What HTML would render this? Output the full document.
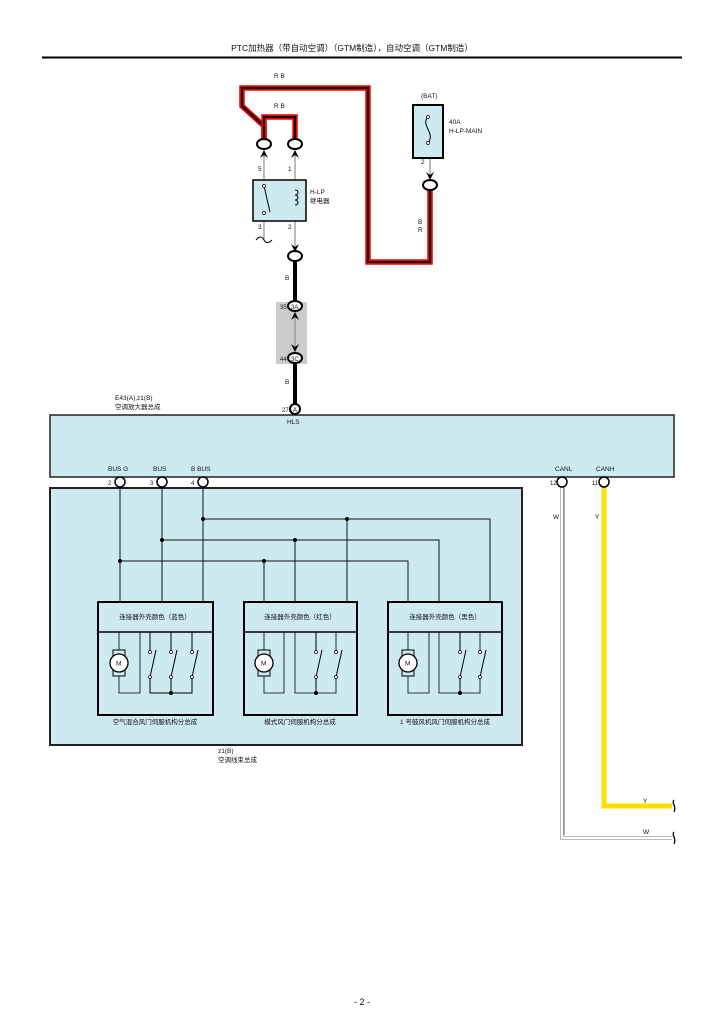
<!DOCTYPE html>
<html><head><meta charset="utf-8"><style>
body{margin:0;background:#fff;}
svg{display:block;}
text{font-family:"Liberation Sans","Noto Sans CJK SC",sans-serif;fill:#111;}
</style></head><body>
<svg width="724" height="1024" viewBox="0 0 724 1024" xmlns="http://www.w3.org/2000/svg">
<text x="352" y="51" font-size="8.5" text-anchor="middle">PTC加热器（带自动空调）（GTM制造），自动空调（GTM制造）</text>
<line x1="42" y1="57.5" x2="682" y2="57.5" stroke="#000" stroke-width="2"/>

<g fill="none" stroke-linejoin="miter">
<polyline points="264,140 264,126 242,106 242,88 368,88 368,262 430,262 430,190" stroke="#e00" stroke-width="5.5"/>
<polyline points="264,140 264,126 242,106 242,88 368,88 368,262 430,262 430,190" stroke="#000" stroke-width="2"/>
<polyline points="264,140 264,117 295,117 295,140" stroke="#e00" stroke-width="5.5"/>
<polyline points="264,140 264,117 295,117 295,140" stroke="#000" stroke-width="2"/>
</g>
<g font-size="6.5">
<text x="274" y="78">R B</text>
<text x="274" y="108">R B</text>
<text x="421" y="98">(BAT)</text>
<text x="449" y="124">40A</text>
<text x="449" y="133">H-LP-MAIN</text>
<text x="421" y="164">2</text>
<text x="418" y="224">B</text>
<text x="418" y="232">R</text>
<text x="258" y="171">5</text>
<text x="288" y="171">1</text>
<text x="258" y="229">3</text>
<text x="288" y="229">2</text>
<text x="310" y="194">H-LP</text>
<text x="310" y="203">继电器</text>
<text x="285" y="280">B</text>
<text x="285" y="384">B</text>
<text x="115" y="400">E43(A),z1(B)</text>
<text x="115" y="409">空调放大器总成</text>
</g>
<g fill="#fff" stroke="#000" stroke-width="2">
<ellipse cx="264" cy="144" rx="7" ry="5"/>
<ellipse cx="295" cy="144" rx="7" ry="5"/>
<ellipse cx="430" cy="185" rx="7" ry="5"/>
</g>
<g stroke="#777" stroke-width="1">
<line x1="264" y1="150" x2="264" y2="240"/>
<line x1="295" y1="150" x2="295" y2="250"/>
<line x1="430" y1="158" x2="430" y2="178"/>
</g>
<g fill="#000">
<path d="M260,158 L264,150 L268,158 L264,155Z"/>
<path d="M291,158 L295,150 L299,158 L295,155Z"/>
<path d="M426,172 L430,180 L434,172 L430,175Z"/>
<path d="M291,244 L295,252 L299,244 L295,247Z"/>
</g>
<rect x="413" y="105" width="30" height="53" fill="#cdeaf1" stroke="#000" stroke-width="2"/>
<path d="M428,117 C420,125 436,133 428,143" fill="none" stroke="#000"/>
<circle cx="428" cy="117" r="1.5" fill="#fff" stroke="#000" stroke-width="0.7"/>
<circle cx="428" cy="143" r="1.5" fill="#fff" stroke="#000" stroke-width="0.7"/>
<rect x="253" y="180" width="53" height="41" fill="#cdeaf1" stroke="#000" stroke-width="1.5"/>
<line x1="264" y1="186" x2="270" y2="212" stroke="#000"/>
<circle cx="264" cy="186" r="1.5" fill="#fff" stroke="#000" stroke-width="0.7"/>
<circle cx="264" cy="213" r="1.5" fill="#fff" stroke="#000" stroke-width="0.7"/>
<path d="M295,190 c4,0 4,5 0,5 c4,0 4,5 0,5 c4,0 4,5 0,5" fill="none" stroke="#000"/>
<path d="M256,240 c3,-4 6,-4 8,0 s5,3 8,0" fill="none" stroke="#000"/>
<ellipse cx="295" cy="256" rx="7" ry="5" fill="#fff" stroke="#000" stroke-width="2"/>
<line x1="295" y1="261" x2="295" y2="404" stroke="#000" stroke-width="4"/>
<rect x="276" y="302" width="31" height="62" fill="#ccc"/>
<line x1="295" y1="300" x2="295" y2="365" stroke="#000" stroke-width="4"/>
<rect x="293" y="311" width="4" height="42" fill="#ccc"/>
<line x1="295" y1="312" x2="295" y2="352" stroke="#888" stroke-width="1"/>
<path d="M291,320 L295,312 L299,320 L295,317Z"/>
<path d="M291,344 L295,352 L299,344 L295,347Z"/>
<g fill="#fff" stroke="#000" stroke-width="2">
<ellipse cx="295" cy="306" rx="7" ry="5"/>
<ellipse cx="295" cy="358" rx="7" ry="5"/>
</g>
<g font-size="6">
<text x="280" y="309">35</text><text x="291" y="309">3A</text>
<text x="280" y="361">44</text><text x="291" y="361">3C</text>
</g>
<rect x="50" y="415" width="624" height="62" fill="#cdeaf1" stroke="#222" stroke-width="1.5"/>
<circle cx="295" cy="409" r="5" fill="#fff" stroke="#000" stroke-width="2"/>
<g font-size="6"><text x="282" y="412">27</text><text x="293" y="412">A</text></g>
<text x="287" y="424" font-size="6.5">HLS</text>
<g font-size="6.5">
<text x="108" y="471">BUS G</text><text x="153" y="471">BUS</text><text x="191" y="471">B BUS</text>
<text x="555" y="471">CANL</text><text x="596" y="471">CANH</text>
</g>
<rect x="50" y="488" width="472" height="257" fill="#cdeaf1" stroke="#222" stroke-width="2"/>
<polyline points="562,485 562,838 672,838" fill="none" stroke="#bbb" stroke-width="4"/>
<polyline points="562,485 562,838 672,838" fill="none" stroke="#fff" stroke-width="2"/>
<line x1="564" y1="485" x2="564" y2="835" stroke="#666" stroke-width="1"/>
<polyline points="604,485 604,806 672,806" fill="none" stroke="#ffe000" stroke-width="5"/>
<g font-size="6.5"><text x="553" y="519">W</text><text x="595" y="519">Y</text><text x="643" y="803">Y</text><text x="643" y="834">W</text></g>
<path d="M674,800 c-3,3 3,6 0,12" fill="none" stroke="#000" stroke-width="1.3"/>
<path d="M674,832 c-3,3 3,6 0,12" fill="none" stroke="#000" stroke-width="1.3"/>
<g stroke="#111" stroke-width="1" fill="none">
<line x1="120" y1="485" x2="120" y2="602"/>
<line x1="162" y1="485" x2="162" y2="602"/>
<line x1="203" y1="485" x2="203" y2="602"/>
<polyline points="203,519 490,519 490,602"/>
<line x1="347" y1="519" x2="347" y2="602"/>
<polyline points="162,540 439,540 439,602"/>
<line x1="295" y1="540" x2="295" y2="602"/>
<polyline points="120,561 408,561 408,602"/>
<line x1="264" y1="561" x2="264" y2="602"/>
</g>
<g fill="#000">
<circle cx="203" cy="519" r="2"/><circle cx="347" cy="519" r="2"/>
<circle cx="162" cy="540" r="2"/><circle cx="295" cy="540" r="2"/>
<circle cx="120" cy="561" r="2"/><circle cx="264" cy="561" r="2"/>
</g>
<g fill="#fff" stroke="#000" stroke-width="1.5">
<circle cx="120" cy="482" r="5"/><circle cx="162" cy="482" r="5"/><circle cx="203" cy="482" r="5"/>
<circle cx="562" cy="482" r="5"/><circle cx="604" cy="482" r="5"/>
</g>
<g font-size="6"><text x="108" y="485">2</text><text x="150" y="485">3</text><text x="191" y="485">4</text><text x="550" y="485">12</text><text x="592" y="485">11</text></g>

<g stroke="#000" fill="none">
<rect x="98" y="602" width="115" height="113" stroke-width="2"/><line x1="98" y1="632" x2="213" y2="632" stroke-width="1.5"/>
<rect x="244" y="602" width="113" height="113" stroke-width="2"/><line x1="244" y1="632" x2="357" y2="632" stroke-width="1.5"/>
<rect x="388" y="602" width="114" height="113" stroke-width="2"/><line x1="388" y1="632" x2="502" y2="632" stroke-width="1.5"/>
<polyline points="119,632 119,693 140,693 140,632" stroke-width="0.8"/>
<polyline points="150,632 150,693 192,693 192,632" stroke-width="1"/>
<line x1="171" y1="632" x2="171" y2="693"/>
<polyline points="264,632 264,693 284,693 284,632" stroke-width="0.8"/>
<polyline points="295,632 295,693 336,693 336,632" stroke-width="0.8"/>
<line x1="316" y1="632" x2="316" y2="693"/>
<polyline points="408,632 408,693 429,693 429,632" stroke-width="0.8"/>
<polyline points="439,632 439,693 480,693 480,632" stroke-width="0.8"/>
<line x1="460" y1="632" x2="460" y2="693"/>
</g>
<g fill="#cdeaf1">
<rect x="148" y="652" width="48" height="25"/><rect x="313" y="652" width="26" height="25"/><rect x="457" y="652" width="26" height="25"/>
</g>
<g stroke="#000" stroke-width="1">
<line x1="150" y1="677" x2="156" y2="650"/><line x1="171" y1="677" x2="177" y2="650"/><line x1="192" y1="677" x2="198" y2="650"/>
<line x1="316" y1="677" x2="322" y2="650"/><line x1="336" y1="677" x2="342" y2="650"/>
<line x1="460" y1="677" x2="466" y2="650"/><line x1="480" y1="677" x2="486" y2="650"/>
</g>
<g fill="#fff" stroke="#000" stroke-width="0.7">
<circle cx="150" cy="652" r="1.5"/><circle cx="150" cy="677" r="1.5"/><circle cx="171" cy="652" r="1.5"/><circle cx="171" cy="677" r="1.5"/><circle cx="192" cy="652" r="1.5"/><circle cx="192" cy="677" r="1.5"/>
<circle cx="316" cy="652" r="1.5"/><circle cx="316" cy="677" r="1.5"/><circle cx="336" cy="652" r="1.5"/><circle cx="336" cy="677" r="1.5"/>
<circle cx="460" cy="652" r="1.5"/><circle cx="460" cy="677" r="1.5"/><circle cx="480" cy="652" r="1.5"/><circle cx="480" cy="677" r="1.5"/>
</g>
<g fill="#000"><circle cx="171" cy="693" r="2"/><circle cx="316" cy="693" r="2"/><circle cx="460" cy="693" r="2"/></g>
<g>
<g transform="translate(119,663)"><rect x="-6" y="-13" width="12" height="26" fill="#cdeaf1" stroke="#000"/><circle r="9" fill="#fff" stroke="#000" stroke-width="1.3"/><text x="-3" y="2.5" font-size="6.5">M</text></g>
<g transform="translate(264,663)"><rect x="-6" y="-13" width="12" height="26" fill="#cdeaf1" stroke="#000"/><circle r="9" fill="#fff" stroke="#000" stroke-width="1.3"/><text x="-3" y="2.5" font-size="6.5">M</text></g>
<g transform="translate(408,663)"><rect x="-6" y="-13" width="12" height="26" fill="#cdeaf1" stroke="#000"/><circle r="9" fill="#fff" stroke="#000" stroke-width="1.3"/><text x="-3" y="2.5" font-size="6.5">M</text></g>
</g>
<g font-size="6.5">
<text x="155" y="619" text-anchor="middle">连接器外壳颜色（蓝色）</text>
<text x="300" y="619" text-anchor="middle">连接器外壳颜色（红色）</text>
<text x="445" y="619" text-anchor="middle">连接器外壳颜色（黑色）</text>
<text x="155" y="724" text-anchor="middle">空气混合风门伺服机构分总成</text>
<text x="300" y="724" text-anchor="middle">模式风门伺服机构分总成</text>
<text x="445" y="724" text-anchor="middle">1 号鼓风机风门伺服机构分总成</text>
<text x="218" y="753">z1(B)</text>
<text x="218" y="762">空调线束总成</text>
</g>
<text x="362" y="1005" font-size="9" text-anchor="middle">- 2 -</text>
</svg>
</body></html>
